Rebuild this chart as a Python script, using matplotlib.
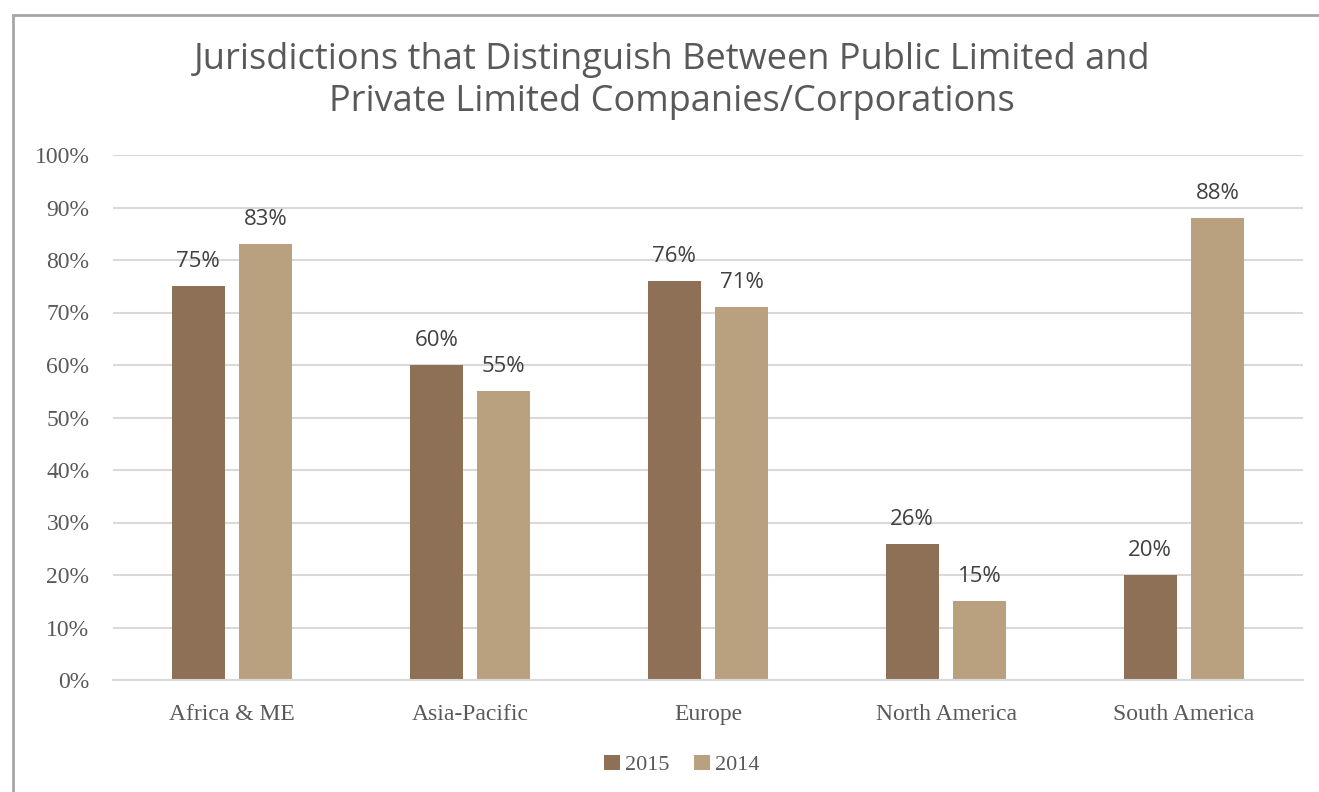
import matplotlib
matplotlib.use("Agg")
import matplotlib.pyplot as plt
import numpy as np
from matplotlib.patches import Rectangle

categories = ["Africa & ME", "Asia-Pacific", "Europe", "North America", "South America"]
series_names = ["2015", "2014"]
values_2015 = [75, 60, 76, 26, 20]
values_2014 = [83, 55, 71, 15, 88]
labels_2015 = ["75%", "60%", "76%", "26%", "20%"]
labels_2014 = ["83%", "55%", "71%", "15%", "88%"]
yticks = [0, 10, 20, 30, 40, 50, 60, 70, 80, 90, 100]
title = "Jurisdictions that Distinguish Between Public Limited and\nPrivate Limited Companies/Corporations"

c2015 = "#8E7056"
c2014 = "#B9A17F"
text_gray = "#595959"
grid_gray = "#D9D9D9"

W, H = 1319, 792
fig = plt.figure(figsize=(W / 100, H / 100), dpi=100)
ax = fig.add_axes([113 / W, 1 - 680 / H, (1303 - 113) / W, (680 - 155) / H])

x = np.arange(len(categories))
bw = 0.222
off = 0.142
b1 = ax.bar(x - off, values_2015, bw, color=c2015, label=series_names[0], zorder=3)
b2 = ax.bar(x + off, values_2014, bw, color=c2014, label=series_names[1], zorder=3)

for bars, labs in ((b1, labels_2015), (b2, labels_2014)):
    for r, lab in zip(bars, labs):
        ax.annotate(lab, (r.get_x() + r.get_width() / 2, r.get_height()),
                    xytext=(0, 10), textcoords="offset points", ha="center", va="bottom",
                    fontsize=16, color="#404040", family="Open Sans")

ax.set_xlim(-0.5, len(categories) - 0.5)
ax.set_ylim(0, 100)
ax.set_yticks(yticks)
ax.set_yticklabels([f"{t}%" for t in yticks], family="Liberation Serif", fontsize=17, color=text_gray)
ax.set_xticks(x)
ax.set_xticklabels(categories, family="Liberation Serif", fontsize=17, color=text_gray)
ax.tick_params(axis="both", length=0)
ax.tick_params(axis="y", pad=17)
ax.tick_params(axis="x", pad=17)
ax.yaxis.grid(True, color=grid_gray, linewidth=1.5, zorder=0)
for s in ["top", "right", "left"]:
    ax.spines[s].set_visible(False)
ax.spines["bottom"].set_color(grid_gray)
ax.spines["bottom"].set_linewidth(1.5)
ax.spines["bottom"].set_zorder(4)

fig.text(672 / W, 1 - 81 / H, title, ha="center", va="center", fontsize=26,
         color=text_gray, family="Open Sans", linespacing=1.23)

leg = fig.legend(handles=[b1, b2], labels=series_names, loc="center", bbox_to_anchor=(682 / W, 1 - 765 / H),
                 ncol=2, frameon=False, prop={"family": "Liberation Serif", "size": 16},
                 handlelength=0.7, handleheight=0.7, handletextpad=0.25, columnspacing=1.1)
for t in leg.get_texts():
    t.set_color(text_gray)

fig.patches.append(Rectangle((13 / W, -0.1), 1.2, 1 - 15 / H + 0.1, transform=fig.transFigure,
                             fill=False, edgecolor="#A6A6A6", linewidth=2, zorder=0))

fig.savefig("out.png", dpi=100)
